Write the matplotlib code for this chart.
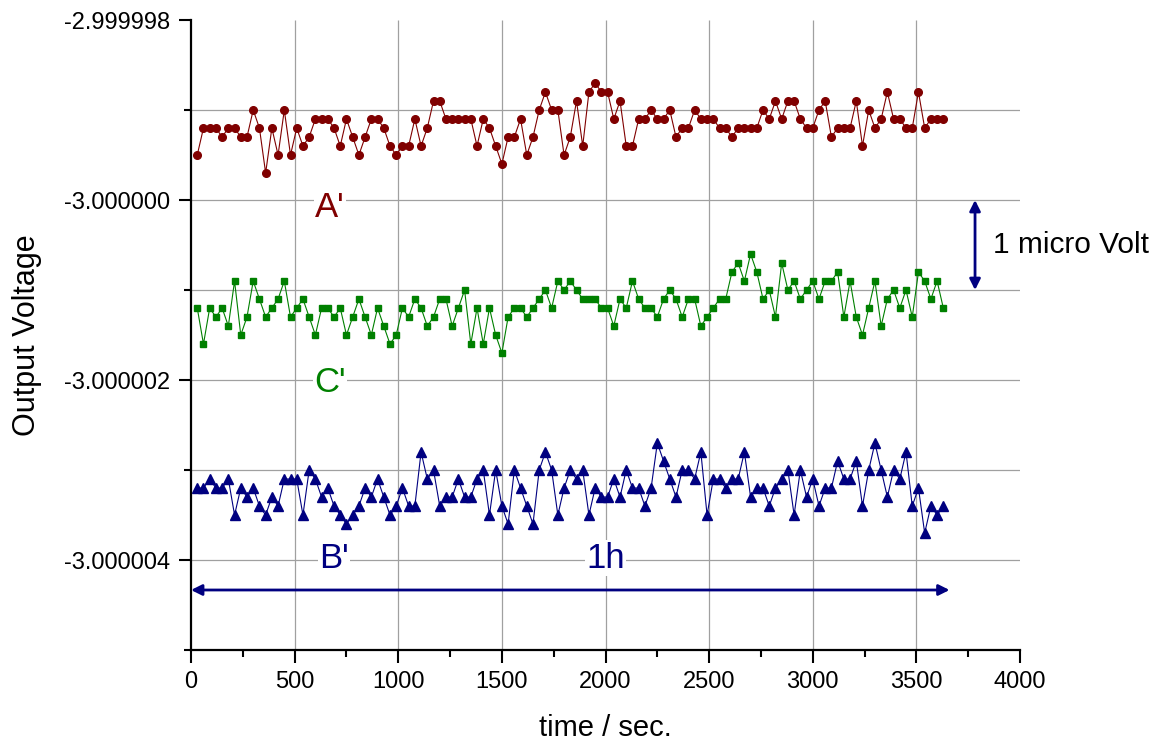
import matplotlib
matplotlib.use("Agg")
import matplotlib.pyplot as plt
from matplotlib.ticker import MultipleLocator, FuncFormatter
import numpy as np

plt.rcParams['font.family'] = ['Liberation Sans', 'DejaVu Sans']

# sample times (s), one reading every 30 s for one hour
time_s = np.arange(30, 3631, 30)

# output voltage as deviation from -3 V, in micro volts
dev_A = [0.5, 0.8, 0.8, 0.8, 0.7, 0.8, 0.8, 0.7, 0.7, 1.0,
         0.8, 0.3, 0.8, 0.5, 1.0, 0.5, 0.8, 0.6, 0.7, 0.9,
         0.9, 0.9, 0.8, 0.6, 0.9, 0.7, 0.5, 0.7, 0.9, 0.9,
         0.8, 0.6, 0.5, 0.6, 0.6, 0.9, 0.6, 0.8, 1.1, 1.1,
         0.9, 0.9, 0.9, 0.9, 0.9, 0.6, 0.9, 0.8, 0.6, 0.4,
         0.7, 0.7, 0.9, 0.5, 0.7, 1.0, 1.2, 1.0, 1.0, 0.5,
         0.7, 1.1, 0.6, 1.2, 1.3, 1.2, 1.2, 0.9, 1.1, 0.6,
         0.6, 0.9, 0.9, 1.0, 0.9, 0.9, 1.0, 0.7, 0.8, 0.8,
         1.0, 0.9, 0.9, 0.9, 0.8, 0.8, 0.7, 0.8, 0.8, 0.8,
         0.8, 1.0, 0.9, 1.1, 0.9, 1.1, 1.1, 0.9, 0.8, 0.8,
         1.0, 1.1, 0.7, 0.8, 0.8, 0.8, 1.1, 0.6, 1.0, 0.8,
         0.9, 1.2, 0.9, 0.9, 0.8, 0.8, 1.2, 0.8, 0.9, 0.9, 0.9]

dev_C = [-1.2, -1.6, -1.2, -1.3, -1.2, -1.4, -0.9, -1.5, -1.3, -0.9,
         -1.1, -1.3, -1.2, -1.1, -0.9, -1.3, -1.2, -1.1, -1.3, -1.5,
         -1.2, -1.2, -1.3, -1.2, -1.5, -1.3, -1.1, -1.3, -1.5, -1.2,
         -1.4, -1.6, -1.5, -1.2, -1.3, -1.1, -1.2, -1.4, -1.3, -1.1,
         -1.1, -1.4, -1.2, -1.0, -1.6, -1.2, -1.6, -1.2, -1.5, -1.7,
         -1.3, -1.2, -1.2, -1.3, -1.2, -1.1, -1.0, -1.2, -0.9, -1.0,
         -0.9, -1.0, -1.1, -1.1, -1.1, -1.2, -1.2, -1.4, -1.1, -1.2,
         -0.9, -1.1, -1.2, -1.2, -1.3, -1.1, -1.0, -1.1, -1.3, -1.1,
         -1.1, -1.4, -1.3, -1.2, -1.1, -1.1, -0.8, -0.7, -0.9, -0.6,
         -0.8, -1.1, -1.0, -1.3, -0.7, -1.0, -0.9, -1.1, -1.0, -0.9,
         -1.1, -0.9, -0.9, -0.8, -1.3, -0.9, -1.3, -1.5, -1.2, -0.9,
         -1.4, -1.1, -1.0, -1.2, -1.0, -1.3, -0.8, -0.9, -1.1, -0.9, -1.2]

dev_B = [-3.2, -3.2, -3.1, -3.2, -3.2, -3.1, -3.5, -3.2, -3.3, -3.2,
         -3.4, -3.5, -3.3, -3.4, -3.1, -3.1, -3.1, -3.5, -3.0, -3.1,
         -3.3, -3.2, -3.4, -3.5, -3.6, -3.5, -3.4, -3.2, -3.3, -3.1,
         -3.3, -3.5, -3.4, -3.2, -3.4, -3.4, -2.8, -3.1, -3.0, -3.4,
         -3.3, -3.3, -3.1, -3.3, -3.3, -3.1, -3.0, -3.5, -3.0, -3.4,
         -3.6, -3.0, -3.2, -3.4, -3.6, -3.0, -2.8, -3.0, -3.5, -3.2,
         -3.0, -3.1, -3.0, -3.5, -3.2, -3.3, -3.3, -3.1, -3.3, -3.0,
         -3.2, -3.2, -3.4, -3.2, -2.7, -2.9, -3.1, -3.3, -3.0, -3.0,
         -3.1, -2.8, -3.5, -3.1, -3.1, -3.2, -3.1, -3.1, -2.8, -3.3,
         -3.2, -3.2, -3.4, -3.2, -3.1, -3.0, -3.5, -3.0, -3.3, -3.1,
         -3.4, -3.2, -3.2, -2.9, -3.1, -3.1, -2.9, -3.4, -3.0, -2.7,
         -3.0, -3.3, -3.0, -3.1, -2.8, -3.4, -3.2, -3.7, -3.4, -3.5, -3.4]

red = '#800000'
green = '#008000'
navy = '#000080'

fig = plt.figure(figsize=(11.62, 7.44), dpi=100)
ax = fig.add_axes([0.1644, 0.1263, 0.7134, 0.8468])

# grid lines (none at the top edge or at 4000 s)
ax.hlines([-4, -3, -2, -1, 0, 1], 0, 4000, color='#a0a0a0', lw=0.9, zorder=0)
ax.vlines([500, 1000, 1500, 2000, 2500, 3000, 3500], -5, 2, color='#a0a0a0', lw=0.9, zorder=0)

ax.plot(time_s, dev_A, '-', color=red, lw=0.8, marker='o', ms=5.5, mec=red, mfc=red)
ax.plot(time_s, dev_C, '-', color=green, lw=0.8, marker='s', ms=5.0, mec=green, mfc=green)
ax.plot(time_s, dev_B, '-', color=navy, lw=0.8, marker='^', ms=6.5, mec=navy, mfc=navy)

ax.set_xlim(0, 4000)
ax.set_ylim(-5, 2)

ax.xaxis.set_major_locator(MultipleLocator(500))
ax.xaxis.set_minor_locator(MultipleLocator(250))
ax.yaxis.set_major_locator(MultipleLocator(2))
ax.yaxis.set_minor_locator(MultipleLocator(1))
ax.yaxis.set_major_formatter(FuncFormatter(lambda v, p: f"{-3 + v * 1e-6:.6f}"))

for side in ['top', 'right']:
    ax.spines[side].set_visible(False)
for side in ['left', 'bottom']:
    ax.spines[side].set_linewidth(1.6)
ax.tick_params(which='major', direction='out', length=9, width=1.5, labelsize=17, pad=6)
ax.tick_params(which='minor', direction='out', length=5, width=1.5)

ax.set_xlabel('time / sec.', fontsize=21, labelpad=15)
ax.set_ylabel('Output Voltage', fontsize=22, labelpad=16)

# curve labels
box = dict(facecolor='white', edgecolor='none', pad=1)
ax.text(670, -0.08, "A'", color=red, fontsize=25, ha='center', va='center', bbox=box)
ax.text(670, -2.03, "C'", color=green, fontsize=25, ha='center', va='center', bbox=box)
ax.text(690, -3.98, "B'", color=navy, fontsize=25, ha='center', va='center', bbox=box)
ax.text(2000, -3.98, "1h", color=navy, fontsize=25, ha='center', va='center', bbox=box)

# one hour span arrow
ax.annotate('', xy=(0, -4.333), xytext=(3660, -4.333),
            arrowprops=dict(arrowstyle='<|-|>', color=navy, lw=2, mutation_scale=16,
                            shrinkA=0, shrinkB=0))

# 1 micro volt scale arrow
ax.annotate('', xy=(3783, 0), xytext=(3783, -1),
            arrowprops=dict(arrowstyle='<|-|>', color=navy, lw=2, mutation_scale=16,
                            shrinkA=0, shrinkB=0))
ax.text(3870, -0.5, '1 micro Volt', fontsize=21.5, ha='left', va='center', clip_on=False)

fig.savefig('out.png', dpi=100)
plt.close(fig)
